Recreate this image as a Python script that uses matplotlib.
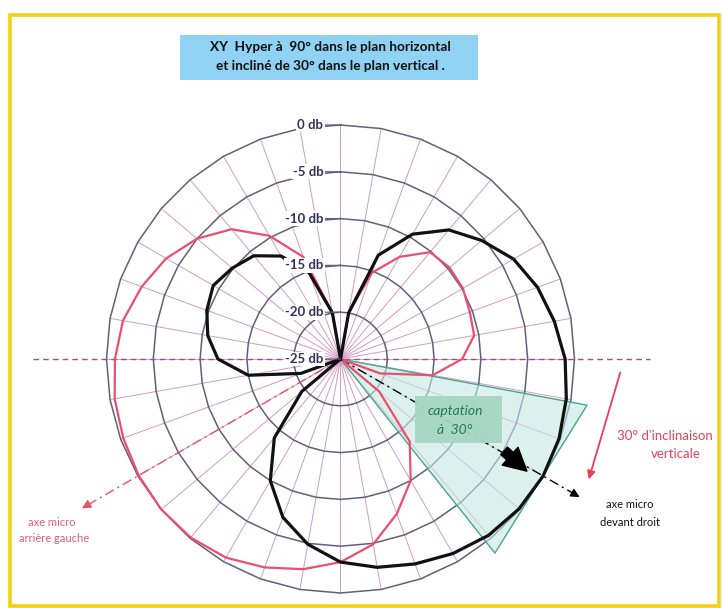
import matplotlib
matplotlib.use("Agg")
import matplotlib.pyplot as plt
import numpy as np
from matplotlib.patches import Rectangle

plt.rcParams['font.family'] = ['Lato', 'DejaVu Sans']

# angles in degrees, clockwise from the top (Excel radar, 36 categories)
angles = np.arange(0, 360, 10)

# right mic (black) and left mic (red), in dB
black_db = [-25, -20.0, -13.2, -9.6, -7.0, -5.3, -3.65, -2.6, -1.8, -1.0,
            -0.5, -0.15, 0.0, -0.1, -0.4, -1.0, -1.7, -2.4, -3.3, -4.9,
            -7.0, -10.0, -14.0, -19.6, -25, -20.5, -15.0, -11.9, -10.6, -9.8,
            -9.3, -9.9, -10.6, -12.3, -15.2, -20.0]
red_db = [-25, -20.0, -15.2, -12.4, -10.1, -9.8, -9.9, -10.3, -10.5, -12.0,
          -15.0, -20.5, -25, -19.6, -13.5, -10.0, -7.4, -4.9, -3.3, -2.2,
          -1.3, -0.5, -0.1, 0.0, -0.1, -0.3, -0.5, -0.9, -1.4, -2.4,
          -3.5, -5.0, -6.9, -9.8, -13.4, -20.0]

ring_db = [0, -5, -10, -15, -20]
ring_labels = ['0 db', '-5 db', '-10 db', '-15 db', '-20 db']
center_db = -25

# mic axes (deg) and captation cone edges
axis_right = 120
axis_left = 240
cone = [100.6, 141.5]

W, H = 722, 608
CX, CY, R = 340.5, 359.0, 234.0

ring_col = '#5f5f7e'
spoke_col = '#d49ac0'
black_col = '#111111'
red_col = '#ea4f6c'

fig = plt.figure(figsize=(W / 100, H / 100), dpi=100)
fig.patch.set_facecolor('white')

ax = fig.add_axes([(CX - R) / W, (H - CY - R) / H, 2 * R / W, 2 * R / H],
                  projection='polar')
ax.set_theta_zero_location('N')
ax.set_theta_direction(-1)
ax.set_ylim(center_db, 0)
ax.axis('off')

th = np.deg2rad(angles)
th_c = np.append(th, th[0])

# spokes
for t in th:
    ax.plot([t, t], [center_db, 0], color=spoke_col, lw=0.7, zorder=1, clip_on=False)
# polygon rings
for v in ring_db:
    ax.plot(th_c, [v] * len(th_c), color=ring_col, lw=1.1, zorder=2, clip_on=False)

# horizontal plane dashed line
ax.plot(np.deg2rad([270, 270, 90, 90]), [7.9, center_db, center_db, 8.1],
        color='#a8488a', lw=1.0, ls=(0, (4, 3)), zorder=2, clip_on=False)

# captation cone
tc = np.deg2rad(cone)
ax.fill([0, tc[0], tc[1]], [center_db, 1.8, 1.5], facecolor='#c6e8e4', alpha=0.6,
        edgecolor='none', zorder=3, clip_on=False)
ax.plot([0, tc[0], tc[1], 0], [center_db, 1.8, 1.5, center_db], color='#45a68c',
        lw=1.0, zorder=3, clip_on=False)

# mic axes
ra = np.deg2rad(axis_right)
ax.plot([ra, ra], [center_db, 4.0], color='k', lw=1.0, ls=(0, (7, 3, 1.5, 3)),
        zorder=4, clip_on=False)
ax.annotate('', xy=(ra, 4.8), xytext=(ra, 3.6),
            arrowprops=dict(arrowstyle='-|>', color='k', lw=1.0, mutation_scale=13),
            annotation_clip=False, zorder=4)
la = np.deg2rad(axis_left)
ax.plot([la, la], [center_db, 6.3], color=red_col, lw=1.0, ls=(0, (7, 3, 1.5, 3)),
        zorder=4, clip_on=False)
ax.annotate('', xy=(la, 7.2), xytext=(la, 6.0),
            arrowprops=dict(arrowstyle='-|>', color=red_col, lw=1.0, mutation_scale=13),
            annotation_clip=False, zorder=4)

# curves
ax.plot(th_c, np.append(red_db, red_db[0]), color=red_col, lw=1.6, zorder=5, clip_on=False)
ax.plot(th_c, np.append(black_db, black_db[0]), color=black_col, lw=2.3, zorder=6,
        clip_on=False)

# value labels
for v, lab in zip(ring_db + [center_db], ring_labels + ['-25 db']):
    ax.annotate(lab, xy=(0, v), xytext=(-17, 0), textcoords='offset pixels',
                ha='right', va='center', fontsize=9.5, fontweight='bold', color='#32325c',
                bbox=dict(boxstyle='square,pad=0.1', fc='white', ec='none'),
                arrowprops=dict(arrowstyle='-', color=ring_col, lw=0.9, shrinkA=0, shrinkB=0),
                zorder=7, annotation_clip=False)

# overlay in pixel coordinates for notes
ov = fig.add_axes([0, 0, 1, 1])
ov.set_xlim(0, W)
ov.set_ylim(H, 0)
ov.axis('off')

ov.add_patch(Rectangle((10, 15), 709, 591, fill=False, ec='#f3d10f', lw=2.6))

ov.add_patch(Rectangle((180, 35), 298, 45, fc='#8fd2f3', ec='none'))
ov.text(330, 47, 'XY  Hyper à  90° dans le plan horizontal', ha='center', va='center',
        fontsize=9.8, fontweight='bold', color='#111111')
ov.text(330, 66, 'et incliné de 30° dans le plan vertical .', ha='center', va='center',
        fontsize=9.8, fontweight='bold', color='#111111')

ov.add_patch(Rectangle((415, 396), 87, 47, fc='#a6d7c3', ec='none', alpha=0.95))
ov.text(455, 411, 'captation', ha='center', va='center', fontsize=10, style='italic',
        color='#23765c')
ov.text(455, 430, 'à  30°', ha='center', va='center', fontsize=10, style='italic',
        color='#23765c')

ov.annotate('', xy=(529, 473), xytext=(502, 449),
            arrowprops=dict(arrowstyle='simple,head_length=0.9,head_width=0.95,tail_width=0.4',
                            fc='k', ec='k', mutation_scale=18))

ov.annotate('', xy=(588, 482), xytext=(621, 370),
            arrowprops=dict(arrowstyle='-|>', color='#e8405a', lw=1.3, mutation_scale=12))
ov.text(665, 436, "30° d'inclinaison", ha='center', va='center', fontsize=9.5, color='#e8405a')
ov.text(676, 454, 'verticale', ha='center', va='center', fontsize=9.5, color='#e8405a')

ov.text(630, 505, 'axe micro', ha='center', va='center', fontsize=8, color='#111111')
ov.text(630, 522, 'devant droit', ha='center', va='center', fontsize=8, color='#111111')

ov.text(52, 522, 'axe micro', ha='center', va='center', fontsize=8, color='#e45a78')
ov.text(54, 538, 'arrière gauche', ha='center', va='center', fontsize=8, color='#e45a78')

fig.savefig('out.png', dpi=100, facecolor='white')
